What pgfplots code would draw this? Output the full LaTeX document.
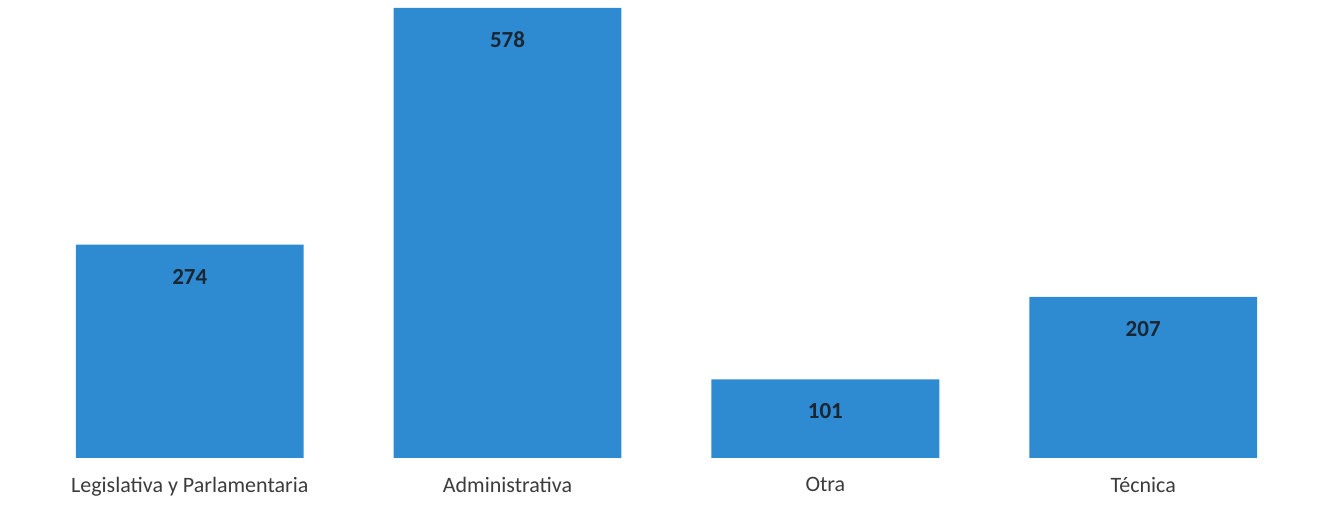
\documentclass[border=0pt]{standalone}
\usepackage{fontspec}
\setmainfont{Carlito}
\usepackage{pgfplots}
\pgfplotsset{compat=1.18}
\definecolor{cbar}{HTML}{2E8BD1}
\definecolor{cval}{HTML}{1B2633}
\definecolor{clab}{HTML}{3C3C3C}
\begin{document}
\begin{tikzpicture}
\useasboundingbox (0,0) rectangle (665.5pt,254pt);
\begin{axis}[
  at={(0pt,25pt)}, anchor=south west,
  scale only axis, width=665.5pt, height=229pt,
  xmin=-0.597, xmax=3.591, ymin=0, ymax=588,
  axis line style={draw=none}, ytick=\empty,
  xtick={0,1,2,3}, major tick length=0pt,
  xticklabels={Legislativa y Parlamentaria, Administrativa, Otra, Técnica},
  xticklabel style={font=\fontsize{11}{13}\selectfont, text=clab, yshift=-6pt},
  clip=false,
  nodes near coords,
  every node near coord/.append style={font=\fontsize{11.5}{13}\selectfont\bfseries, text=cval,
    anchor=center, yshift=-16pt, /pgf/number format/assume math mode=true},
]
\addplot[ybar, bar width=0.717, fill=cbar, draw=none] coordinates {(0,274) (1,578) (2,101) (3,207)};
\end{axis}
\end{tikzpicture}
\end{document}
